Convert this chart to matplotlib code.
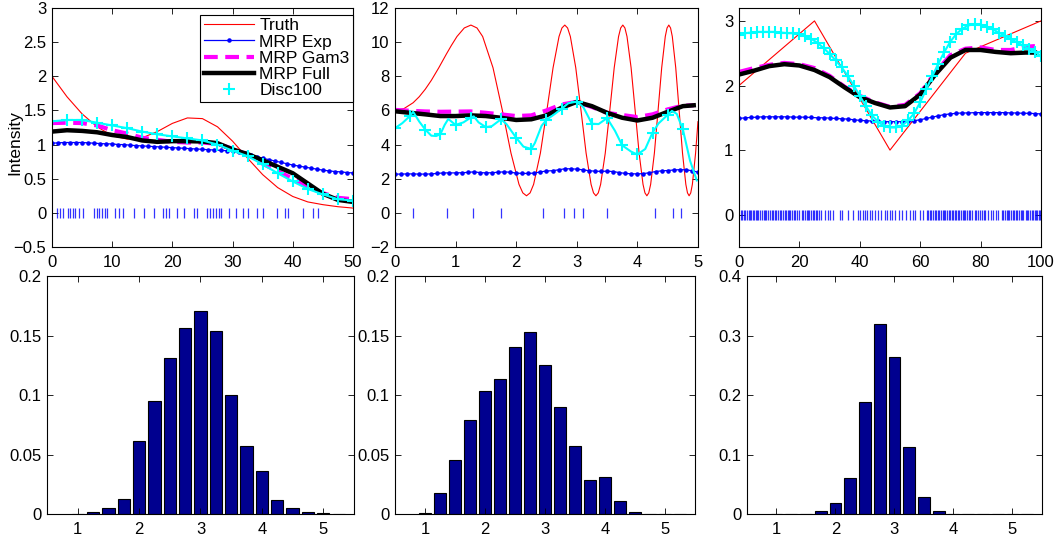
import numpy as np
import matplotlib
matplotlib.use("Agg")
import matplotlib.pyplot as plt

plt.rcParams['font.family'] = ['Liberation Sans', 'DejaVu Sans']
plt.rcParams['font.size'] = 12

# ============================================
#              data
# ============================================

# --- panel 1 : [0, 50]
truth1_x = [0, 2.5, 5, 7.5, 10, 12.5, 15, 17.5, 20, 22.5, 25, 27.5, 30, 32.5, 35, 37.5, 40, 42.5, 45, 47.5, 50]
truth1_y = [2.00, 1.70, 1.45, 1.26, 1.13, 1.08, 1.10, 1.19, 1.31, 1.39, 1.38, 1.26, 1.05, 0.80, 0.56, 0.37, 0.24, 0.16, 0.12, 0.09, 0.07]
exp1_y = [1.02, 1.025, 1.03, 1.03, 1.03, 1.03, 1.025, 1.02, 1.015, 1.01,
          1.01, 1.00, 1.00, 0.99, 0.985, 0.98, 0.975, 0.97, 0.965, 0.96,
          0.955, 0.95, 0.945, 0.94, 0.935, 0.93, 0.925, 0.92, 0.915, 0.91,
          0.905, 0.89, 0.87, 0.85, 0.825, 0.80, 0.78, 0.76, 0.74, 0.72,
          0.70, 0.685, 0.67, 0.655, 0.64, 0.625, 0.615, 0.605, 0.60, 0.59, 0.585]
gam1_y = [1.315, 1.32, 1.315, 1.28, 1.21, 1.16, 1.10, 1.07, 1.04, 1.03, 1.03, 1.01, 0.94, 0.85, 0.72, 0.61, 0.50, 0.38, 0.29, 0.22, 0.20]
full1_y = [1.19, 1.21, 1.20, 1.18, 1.14, 1.11, 1.06, 1.04, 1.05, 1.05, 1.045, 1.02, 0.93, 0.86, 0.77, 0.675, 0.58, 0.43, 0.28, 0.19, 0.16]
disc1_y = [1.34, 1.36, 1.36, 1.32, 1.28, 1.24, 1.19, 1.15, 1.12, 1.09, 1.06, 1.00, 0.91, 0.83, 0.71, 0.58, 0.46, 0.35, 0.27, 0.20, 0.18]
events1 = [0.78, 1.27, 1.88, 2.60, 3.05, 3.49, 3.88, 4.49, 5.20, 6.98, 7.42, 7.86, 8.36, 8.80, 9.19,
           10.47, 11.13, 11.85, 13.68, 15.34, 16.94, 18.49, 18.99, 19.44, 20.82, 21.93, 23.59, 24.03,
           25.80, 26.30, 26.74, 27.24, 27.69, 28.13, 29.35, 30.62, 31.67, 32.50, 34.11, 34.99, 37.43,
           38.76, 39.20, 41.75, 43.41, 44.19]

# --- panel 2 : [0, 5]
truth2_x = [0, 0.15, 0.3, 0.4, 0.5, 0.6, 0.7236, 0.85, 0.93, 1.0233, 1.1441, 1.2533, 1.3537, 1.4472,
            1.618, 1.7725, 1.9145, 2.0467, 2.1097, 2.1708, 2.2303, 2.2882, 2.3999, 2.5066, 2.609,
            2.7075, 2.7554, 2.8025, 2.8488, 2.8944, 2.9835, 3.07, 3.1541, 3.2361, 3.2763, 3.316,
            3.3552, 3.394, 3.4703, 3.5449, 3.618, 3.6897, 3.725, 3.76, 3.7946, 3.829, 3.8967,
            3.9633, 4.0288, 4.0933, 4.1252, 4.1568, 4.1882, 4.2193, 4.2809, 4.3416, 4.4015,
            4.4606, 4.4898, 4.5189, 4.5478, 4.5765, 4.6333, 4.6895, 4.745, 4.7998, 4.827, 4.8541,
            4.8809, 4.9077, 4.9608, 5.0]
truth2_y = [6, 6.11, 6.45, 6.80, 7.24, 7.76, 8.5, 9.31, 9.80, 10.33, 10.83, 11, 10.83, 10.33,
            8.5, 6, 3.5, 1.67, 1.17, 1, 1.17, 1.67, 3.5, 6, 8.5,
            10.33, 10.83, 11, 10.83, 10.33, 8.5, 6, 3.5, 1.67, 1.17, 1,
            1.17, 1.67, 3.5, 6, 8.5, 10.33, 10.83, 11, 10.83, 10.33, 8.5,
            6, 3.5, 1.67, 1.17, 1, 1.17, 1.67, 3.5, 6, 8.5,
            10.33, 10.83, 11, 10.83, 10.33, 8.5, 6, 3.5, 1.67, 1.17, 1,
            1.17, 1.67, 3.5, 5.34]
exp2_y = [2.27, 2.27, 2.28, 2.28, 2.27, 2.27, 2.28, 2.31, 2.34, 2.34,
          2.34, 2.35, 2.37, 2.40, 2.36, 2.34, 2.35, 2.38, 2.40, 2.38,
          2.33, 2.31, 2.31, 2.33, 2.40, 2.45, 2.47, 2.52, 2.58, 2.58,
          2.56, 2.52, 2.47, 2.44, 2.43, 2.44, 2.42, 2.36, 2.31, 2.29,
          2.28, 2.30, 2.35, 2.42, 2.46, 2.48, 2.51, 2.53, 2.52, 2.47, 2.38]
smooth2_x = [0, 0.25, 0.5, 0.75, 1.0, 1.25, 1.5, 1.75, 2.0, 2.25, 2.5, 2.75, 3.0, 3.25, 3.5, 3.75, 4.0, 4.25, 4.5, 4.75, 4.93]
gam2_y = [6.03, 5.98, 5.94, 5.92, 5.93, 5.94, 5.86, 5.77, 5.67, 5.71, 6.00, 6.35, 6.50, 6.20, 5.86, 5.73, 5.61, 5.77, 6.06, 6.28, 6.30]
full2_y = [5.95, 5.86, 5.77, 5.67, 5.67, 5.71, 5.67, 5.57, 5.44, 5.48, 5.71, 6.16, 6.50, 6.25, 5.86, 5.57, 5.41, 5.57, 5.92, 6.25, 6.30]
disc2_x = [0, 0.12, 0.25, 0.30, 0.40, 0.50, 0.60, 0.68, 0.75, 0.82, 0.88, 1.00, 1.13, 1.25, 1.30, 1.38,
           1.50, 1.60, 1.75, 1.84, 2.00, 2.12, 2.25, 2.31, 2.42, 2.50, 2.64, 2.75, 2.86, 3.00, 3.11,
           3.25, 3.36, 3.50, 3.63, 3.75, 3.90, 4.00, 4.13, 4.25, 4.35, 4.50, 4.57, 4.65, 4.75, 4.87, 4.98]
disc2_y = [4.96, 5.25, 5.68, 5.92, 5.35, 4.88, 4.52, 4.50, 4.61, 5.15, 5.50, 5.15, 5.30, 5.58, 5.65, 5.30,
           5.02, 5.08, 5.48, 5.20, 4.40, 3.88, 3.74, 4.10, 5.10, 5.45, 5.80, 6.10, 6.42, 6.52, 6.18,
           5.22, 5.20, 5.55, 4.81, 3.95, 3.58, 3.42, 3.74, 4.70, 5.24, 5.74, 5.97, 5.80, 4.90, 3.05, 1.90]
events2 = [0.30, 0.86, 1.29, 1.75, 2.45, 2.79, 2.95, 3.10, 3.50, 4.29, 4.58, 4.72]

# --- panel 3 : [0, 100]
truth3_x = [0, 25, 50, 75, 100]
truth3_y = [2, 3, 1, 2.5, 3]
exp3_y = [1.49, 1.50, 1.505, 1.51, 1.515, 1.515, 1.515, 1.515, 1.515, 1.51,
          1.51, 1.51, 1.505, 1.50, 1.50, 1.495, 1.49, 1.485, 1.48, 1.47,
          1.46, 1.455, 1.45, 1.445, 1.44, 1.44, 1.44, 1.44, 1.445, 1.455,
          1.47, 1.49, 1.51, 1.53, 1.55, 1.56, 1.57, 1.575, 1.575, 1.58,
          1.58, 1.58, 1.58, 1.58, 1.58, 1.575, 1.575, 1.57, 1.57, 1.565, 1.56]
smooth3_x = [0, 5, 10, 15, 20, 25, 30, 35, 40, 45, 50, 55, 60, 65, 70, 75, 80, 85, 90, 95, 98]
gam3_y = [2.21, 2.27, 2.32, 2.35, 2.33, 2.27, 2.15, 1.98, 1.84, 1.74, 1.67, 1.70, 1.88, 2.20, 2.47, 2.57, 2.59, 2.55, 2.55, 2.60, 2.61]
full3_y = [2.17, 2.23, 2.30, 2.33, 2.31, 2.24, 2.13, 1.97, 1.82, 1.73, 1.66, 1.68, 1.86, 2.17, 2.43, 2.55, 2.55, 2.52, 2.50, 2.51, 2.51]
disc3_y = [2.78, 2.81, 2.82, 2.83, 2.83, 2.83, 2.83, 2.82, 2.81, 2.81, 2.79, 2.76, 2.72, 2.66, 2.58,
           2.49, 2.39, 2.28, 2.15, 2.00, 1.84, 1.68, 1.54, 1.44, 1.37, 1.35, 1.35, 1.38, 1.46, 1.57,
           1.74, 1.94, 2.14, 2.34, 2.52, 2.68, 2.80, 2.88, 2.93, 2.95, 2.94, 2.91, 2.87, 2.82, 2.77,
           2.72, 2.67, 2.62, 2.57, 2.52, 2.46]
events3 = [0.6, 1.0, 1.7, 2.1, 2.5, 3.2, 3.5, 4.1, 4.6, 4.9, 5.6, 6.0, 6.4, 7.1, 7.5, 8.2, 8.6, 9.0, 9.7,
           10.2, 11.0, 11.4, 11.9, 12.3, 12.9, 13.6, 14.0, 14.5, 15.1, 15.5, 16.2, 16.6, 17.0, 17.7, 18.1,
           18.6, 19.3, 19.8, 20.8, 21.3, 21.7, 22.4, 22.8, 23.3, 23.9, 24.4, 24.8, 25.5, 25.9, 26.6, 27.2,
           28.6, 29.4, 30.1, 31.1, 33.3, 34.0, 36.1, 37.7, 39.4, 40.2, 40.9, 41.8, 42.5, 43.3, 44.1, 44.9,
           46.0, 47.1, 48.2, 48.9, 50.0, 50.6, 51.7, 53.0, 53.9, 55.2, 56.6, 57.7, 58.3, 59.9, 61.0,
           62.2, 62.7, 63.3, 63.7, 64.2, 64.8, 65.2, 65.9, 66.3, 66.8, 67.4, 67.9, 68.3, 68.9, 69.4, 69.8,
           70.5, 70.9, 71.4, 71.9, 72.5, 73.0, 73.4, 74.1, 74.6, 75.0, 75.6, 76.1, 76.5, 77.0, 78.1, 78.6,
           79.3, 79.8, 80.4, 81.1, 81.6, 82.6, 83.5, 84.2, 85.0, 85.9, 87.0, 87.5, 88.0, 88.6, 89.1, 89.5,
           90.2, 90.6, 91.1, 91.7, 92.2, 92.6, 93.3, 93.8, 94.2, 94.9, 95.3, 95.8, 96.4, 96.9, 97.3, 98.0,
           98.4, 98.8, 99.4, 99.8]

# --- bottom row : histograms
bin_x = [1.0, 1.25, 1.5, 1.75, 2.0, 2.25, 2.5, 2.75, 3.0, 3.25, 3.5, 3.75, 4.0, 4.25, 4.5, 4.75, 5.0, 5.25]
hist1 = [0.0003, 0.0014, 0.0048, 0.0126, 0.0616, 0.0947, 0.131, 0.156, 0.171, 0.154, 0.0997, 0.0574,
         0.0359, 0.0118, 0.0048, 0.0017, 0.0005, 0.0002]
hist2 = [0.0012, 0.0174, 0.0454, 0.079, 0.103, 0.1134, 0.140, 0.153, 0.125, 0.090, 0.057, 0.029,
         0.031, 0.011, 0.0018, 0.0003, 0.0001, 0.0]
hist3 = [0.0, 0.0, 0.0, 0.005, 0.018, 0.060, 0.189, 0.319, 0.264, 0.112, 0.029, 0.0056, 0.0, 0.0, 0.0, 0.0, 0.0, 0.0]


# ============================================
#              drawing
# ============================================

def style_axes(ax):
    ax.tick_params(direction='in', top=True, right=True, length=4, width=0.6, labelsize=12)
    ax.tick_params(axis='x', pad=6)
    ax.tick_params(axis='y', pad=4)
    for s in ax.spines.values():
        s.set_linewidth(0.8)


def draw_top(ax, tx, ty, ex, ey, sx, gy, fy, dx, dy, marker_mask, events):
    ax.plot(tx, ty, color='red', lw=0.8, label='Truth')
    ax.plot(ex, ey, color='blue', lw=0.9, marker='.', ms=4.5, label='MRP Exp')
    ax.plot(sx, gy, color='magenta', lw=3, ls=(0, (3.3, 1.8)), label='MRP Gam3')
    ax.plot(sx, fy, color='black', lw=3.2, label='MRP Full')
    ax.plot(dx, dy, color='cyan', lw=1.5)
    dx = np.asarray(dx)
    dy = np.asarray(dy)
    ax.plot(dx[marker_mask], dy[marker_mask], color='cyan', ls='none', marker='+', ms=9, mew=1.5,
            label='Disc100')
    ax.plot(events, np.zeros(len(events)), color='blue', ls='none', marker='|', ms=7, mew=0.9, alpha=0.8)
    style_axes(ax)


fig = plt.figure(figsize=(10.58, 5.40), dpi=100)

ax1 = fig.add_axes([0.0491, 0.5426, 0.2845, 0.4426])
ax2 = fig.add_axes([0.3733, 0.5426, 0.2864, 0.4426])
ax3 = fig.add_axes([0.6985, 0.5426, 0.2854, 0.4426])
ax4 = fig.add_axes([0.0444, 0.0481, 0.2902, 0.4407])
ax5 = fig.add_axes([0.3733, 0.0481, 0.2836, 0.4407])
ax6 = fig.add_axes([0.7060, 0.0481, 0.2788, 0.4407])

# panel 1
x1 = np.arange(len(exp1_y)) * 1.0
draw_top(ax1, truth1_x, truth1_y, x1, exp1_y, truth1_x, gam1_y, full1_y,
         truth1_x, disc1_y, np.ones(len(disc1_y), bool), events1)
ax1.set_xlim(0, 50)
ax1.set_ylim(-0.5, 3)
ax1.set_xticks(np.arange(0, 51, 10))
ax1.set_yticks(np.arange(-0.5, 3.01, 0.5))
ax1.set_yticklabels(['\u22120.5', '0', '0.5', '1', '1.5', '2', '2.5', '3'])
ax1.set_ylabel('Intensity', fontsize=12.5)
ax1.yaxis.set_label_coords(-0.097, 0.435)
leg = ax1.legend(loc='upper right', bbox_to_anchor=(1.0, 0.972), fontsize=12.5, frameon=True,
                 fancybox=False, framealpha=1, edgecolor='black', handlelength=2.9,
                 labelspacing=0.06, borderpad=0.2, borderaxespad=0.0, handletextpad=0.3)
leg.get_frame().set_linewidth(0.8)

# panel 2
x2 = np.arange(len(exp2_y)) * 0.1
frac2 = (np.asarray(disc2_x) * 4) % 1
mask2 = np.isclose(frac2, 0) | np.isclose(frac2, 1)
draw_top(ax2, truth2_x, truth2_y, x2, exp2_y, smooth2_x, gam2_y, full2_y,
         disc2_x, disc2_y, mask2, events2)
ax2.set_xlim(0, 5)
ax2.set_ylim(-2, 12)
ax2.set_xticks(np.arange(0, 6, 1))
ax2.set_yticks(np.arange(-2, 13, 2))
ax2.set_yticklabels(['\u22122', '0', '2', '4', '6', '8', '10', '12'])

# panel 3
x3 = np.arange(len(exp3_y)) * 2.0
draw_top(ax3, truth3_x, truth3_y, x3, exp3_y, smooth3_x, gam3_y, full3_y,
         x3, disc3_y, np.ones(len(disc3_y), bool), events3)
ax3.set_xlim(0, 100)
ax3.set_ylim(-0.5, 3.2)
ax3.set_xticks(np.arange(0, 101, 20))
ax3.set_yticks([0, 1, 2, 3])

# histograms
bar_color = (0.0, 0.0, 0.5625)
for ax, h, ymax, yt in [(ax4, hist1, 0.2, [0, 0.05, 0.1, 0.15, 0.2]),
                        (ax5, hist2, 0.2, [0, 0.05, 0.1, 0.15, 0.2]),
                        (ax6, hist3, 0.4, [0, 0.1, 0.2, 0.3, 0.4])]:
    ax.bar(bin_x, h, width=0.2, color=bar_color, edgecolor='black', linewidth=0.8)
    ax.set_xlim(0.5, 5.5)
    ax.set_ylim(0, ymax)
    ax.set_xticks([1, 2, 3, 4, 5])
    ax.set_yticks(yt)
    ax.set_yticklabels(['0' if v == 0 else ('%g' % v) for v in yt])
    style_axes(ax)

fig.savefig('out.png', dpi=100)
